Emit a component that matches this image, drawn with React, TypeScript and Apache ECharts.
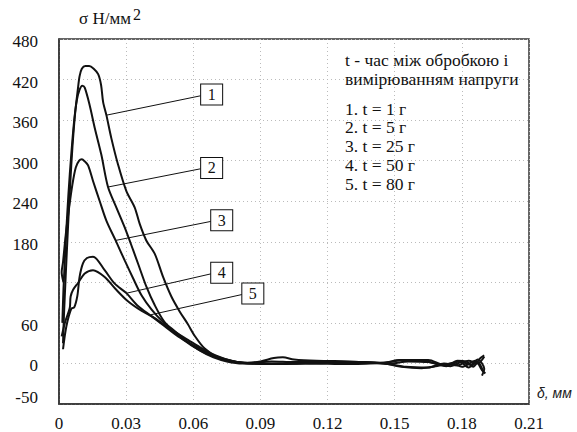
import React, { useEffect, useRef } from "react";
import * as echarts from "echarts";

// δ (mm) vs σ (N/mm²) curves
const curve1: [number, number][] = [
  [0.0018, 30], [0.0022, 70], [0.003, 130], [0.004, 200], [0.005, 265], [0.006, 320],
  [0.0072, 370], [0.0084, 405], [0.0092, 425], [0.0102, 436], [0.0118, 440], [0.0135, 440],
  [0.0155, 436], [0.0175, 428], [0.0188, 412], [0.0197, 387], [0.0212, 367], [0.0234, 333],
  [0.0264, 294], [0.0301, 255], [0.0338, 231], [0.0361, 206], [0.039, 182], [0.0428, 162],
  [0.0465, 128], [0.0502, 99], [0.0539, 77], [0.0576, 58], [0.0606, 41], [0.0651, 22],
  [0.071, 9], [0.0785, 2], [0.084, 1], [0.09, 3], [0.096, 8], [0.1, 9],
  [0.105, 6], [0.115, 4], [0.13, 3], [0.145, 1], [0.152, 5], [0.16, 5], [0.168, 0],
  [0.173, -4], [0.178, 4], [0.182, 3], [0.185, -5], [0.188, 7], [0.19, 12],
];
const curve2: [number, number][] = [
  [0.0015, 60], [0.002, 110], [0.003, 180], [0.0042, 250], [0.0055, 310], [0.0068, 360],
  [0.008, 390], [0.0092, 405], [0.0104, 411], [0.0115, 408], [0.0137, 382], [0.016, 348],
  [0.0189, 309], [0.0219, 261], [0.0256, 231], [0.0294, 201], [0.0331, 168], [0.0355, 146],
  [0.039, 114], [0.0428, 86], [0.047, 62], [0.053, 42], [0.059, 27], [0.065, 16],
  [0.071, 8], [0.078, 3], [0.085, 0], [0.095, -1], [0.11, 0], [0.13, 1], [0.145, 0],
  [0.153, -5], [0.162, -7], [0.17, -3], [0.176, 0], [0.18, -5], [0.186, 4], [0.189, -10],
  [0.1905, -15],
];
const curve3: [number, number][] = [
  [0.002, 120], [0.0012, 135], [0.0018, 150], [0.003, 190], [0.0045, 230], [0.006, 265],
  [0.0075, 290], [0.009, 300], [0.0102, 302], [0.0115, 299], [0.013, 293], [0.0152, 270],
  [0.0182, 240], [0.0212, 211], [0.0253, 182], [0.0294, 152], [0.0331, 126], [0.037, 100],
  [0.0413, 80], [0.046, 63], [0.051, 50], [0.057, 33], [0.063, 19], [0.069, 9], [0.075, 3],
  [0.082, 0], [0.095, 0], [0.115, 1], [0.135, 2], [0.148, 0], [0.156, 3], [0.165, 2],
  [0.175, -4], [0.18, 2], [0.184, -2], [0.187, 6], [0.19, -8], [0.189, -18],
];
const curve4: [number, number][] = [
  [0.0018, 21], [0.0033, 55], [0.0055, 81], [0.0068, 83], [0.0082, 100], [0.0092, 128],
  [0.0107, 148], [0.0125, 156], [0.0152, 158], [0.0204, 138], [0.0249, 118], [0.0301, 104],
  [0.0353, 85], [0.0413, 70], [0.0472, 55], [0.0532, 40], [0.0606, 26], [0.0681, 13],
  [0.077, 4], [0.0843, 0], [0.095, 3], [0.105, 2], [0.125, 2], [0.145, 0], [0.155, -5],
  [0.165, -6], [0.172, 0], [0.178, -3], [0.183, 4], [0.187, 0], [0.19, 10],
];
const curve5: [number, number][] = [
  [0.0012, 40], [0.0028, 62], [0.0048, 82], [0.0052, 99], [0.0063, 109], [0.0085, 119],
  [0.0115, 133], [0.0152, 138], [0.0204, 128], [0.0256, 109], [0.0308, 92], [0.0368, 78],
  [0.0428, 67], [0.0502, 50], [0.0576, 35], [0.064, 22], [0.07, 12], [0.077, 4],
  [0.083, 1], [0.095, -1], [0.11, 0], [0.13, -1], [0.145, 1], [0.155, 5], [0.165, 5],
  [0.172, -2], [0.179, 3], [0.183, -6], [0.187, 2], [0.1895, -12],
];
const curves = [curve1, curve2, curve3, curve4, curve5];

// numbered callouts: box centre, leader start (box side), leader end (on curve)
const calloutLabels = ["1", "2", "3", "4", "5"];
const calloutBox: [number, number][] = [
  [0.0682, 397.8], [0.0682, 289.3], [0.0727, 211.8], [0.0727, 134.3], [0.0866, 103.5],
];
const leaderFrom: [number, number][] = [
  [0.0633, 396], [0.0633, 288], [0.0681, 210.3], [0.0681, 132.7], [0.0818, 102],
];
const leaderTo: [number, number][] = [
  [0.0212, 367.3], [0.0219, 261], [0.0253, 182], [0.0303, 104], [0.041, 72],
];

// axes
const xTickValues = [0, 0.03, 0.06, 0.09, 0.12, 0.15, 0.18, 0.21];
const xTickText = ["0", "0.03", "0.06", "0.09", "0.12", "0.15", "0.18", "0.21"];
const yTickValues = [-60, 0, 60, 120, 180, 240, 300, 360, 420, 480];
const yTickText = ["-50", "0", "60", "", "180", "240", "300", "360", "420", "480"];

// text block
const noteTitle = ["t - час між обробкою і", "вимірюванням напруги"];
const noteItems = ["1. t = 1 г", "2. t = 5 г", "3. t = 25 г", "4. t = 50 г", "5. t = 80 г"];

const SERIF = "Liberation Serif";

export default function App() {
  const ref = useRef<HTMLDivElement>(null);
  useEffect(() => {
    if (!ref.current) return;
    const chart = echarts.init(ref.current, null, { renderer: "svg" });
    const series: any[] = curves.map((c, i) => ({
      type: "line",
      data: c,
      smooth: 0.3,
      showSymbol: false,
      symbol: "none",
      lineStyle: { color: "#111", width: 2 },
      z: 3,
      markLine: {
        silent: true,
        symbol: "none",
        label: { show: false },
        lineStyle: { color: "#111", width: 1, type: "solid" },
        data: [[{ coord: leaderFrom[i] }, { coord: leaderTo[i] }]],
      },
      markPoint: {
        silent: true,
        symbol: "rect",
        symbolSize: [22, 21],
        itemStyle: { color: "#fff", borderColor: "#111", borderWidth: 1 },
        label: {
          show: true,
          position: "inside",
          formatter: calloutLabels[i],
          color: "#111",
          fontFamily: SERIF,
          fontSize: 16,
        },
        data: [{ coord: calloutBox[i] }],
      },
    }));

    const textLine = (text: string, top: number) => ({
      text,
      left: 345,
      top,
      padding: 0,
      textStyle: { fontFamily: SERIF, fontSize: 17.5, fontWeight: "normal", color: "#111" },
    });
    const titles = [
      ...noteTitle.map((t, i) => textLine(t, 51 + i * 19.3)),
      ...noteItems.map((t, i) => textLine(t, 99.5 + i * 18.8)),
    ];

    chart.setOption({
      animation: false,
      backgroundColor: "#fff",
      title: titles,
      grid: {
        left: 59,
        top: 39,
        right: 48,
        bottom: 23,
        show: true,
        borderColor: "#333",
        borderWidth: 1.5,
        containLabel: false,
      },
      xAxis: {
        type: "value",
        min: 0,
        max: 0.21,
        interval: 0.03,
        name: "δ, мм",
        nameLocation: "end",
        nameGap: 8,
        nameTextStyle: {
          fontFamily: "Liberation Sans",
          fontStyle: "italic",
          fontSize: 14,
          color: "#222",
          verticalAlign: "bottom",
          padding: [0, 0, 4, 0],
        },
        axisLine: { show: true, onZero: false, lineStyle: { color: "#333", width: 1.5 } },
        axisTick: { show: false },
        axisLabel: {
          margin: 11,
          color: "#111",
          formatter: (v: number) => {
            const idx = xTickValues.findIndex((t) => Math.abs(t - v) < 1e-9);
            return idx >= 0 ? `{n|${xTickText[idx]}}` : "";
          },
          rich: {
            n: { fontFamily: SERIF, fontSize: 17, color: "#111" },
          },
        },
        splitLine: { show: true, lineStyle: { color: "#bbb", type: [1, 3], width: 1 } },
      },
      yAxis: {
        type: "value",
        min: -60,
        max: 480,
        interval: 60,
        name: "{a|σ Н/мм}{b|2}",
        nameLocation: "end",
        nameGap: 9,
        nameTextStyle: {
          align: "left",
          padding: [0, 0, 0, 20],
          rich: {
            a: { fontFamily: SERIF, fontSize: 17, color: "#111" },
            b: { fontFamily: SERIF, fontSize: 16, color: "#111", padding: [0, 0, 8, 2] },
          },
        },
        axisLine: { show: true, onZero: false, lineStyle: { color: "#333", width: 1.5 } },
        axisTick: { show: false },
        axisLabel: {
          margin: 21,
          fontFamily: SERIF,
          fontSize: 17,
          color: "#111",
          formatter: (v: number) => {
            const idx = yTickValues.indexOf(v);
            if (idx < 0 || yTickText[idx] === "") return "";
            return v === -60 ? `{u|${yTickText[idx]}}` : `{n|${yTickText[idx]}}`;
          },
          rich: {
            n: { fontFamily: SERIF, fontSize: 17, color: "#111", padding: [5, 0, 0, 0] },
            u: { fontFamily: SERIF, fontSize: 17, color: "#111", padding: [0, 0, 13, 0] },
          },
        },
        splitLine: { show: true, lineStyle: { color: "#bbb", type: [1, 3], width: 1 } },
      },
      series,
    });
    return () => chart.dispose();
  }, []);

  return (
    <div
      ref={ref}
      style={{ position: "absolute", left: 0, top: 0, width: 577, height: 432, background: "#fff" }}
    />
  );
}
